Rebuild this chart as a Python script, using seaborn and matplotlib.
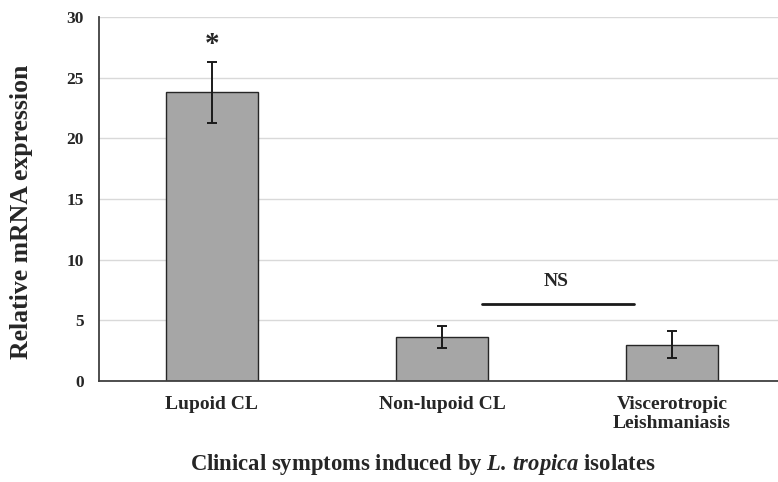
import matplotlib
matplotlib.use("Agg")
import matplotlib.pyplot as plt
import seaborn as sns
import pandas as pd

categories = ["Lupoid CL", "Non-lupoid CL", "Viscerotropic\nLeishmaniasis"]
values = [23.8, 3.65, 3.0]
errors = [2.5, 0.9, 1.1]
yticks = [0, 5, 10, 15, 20, 25, 30]

sns.set_theme(style="white")
plt.rcParams["font.family"] = ["Liberation Serif", "DejaVu Serif"]
plt.rcParams["font.weight"] = "bold"
plt.rcParams["mathtext.fontset"] = "custom"
plt.rcParams["mathtext.rm"] = "Liberation Serif:bold"
plt.rcParams["mathtext.bf"] = "Liberation Serif:bold"
plt.rcParams["mathtext.it"] = "Liberation Serif:italic:bold"
plt.rcParams["mathtext.bfit"] = "Liberation Serif:italic:bold"

df = pd.DataFrame({"cat": categories, "val": values})

fig = plt.figure(figsize=(7.78, 4.82), dpi=100)
ax = fig.add_axes([99 / 778, 1 - 381 / 482, 679 / 778, 364 / 482])

ax.set_axisbelow(True)
ax.yaxis.grid(True, color="#d9d9d9", lw=1.0)
sns.barplot(data=df, x="cat", y="val", color="#a6a6a6", width=0.4,
            edgecolor="#262626", linewidth=1.0, saturation=1, errorbar=None, ax=ax)
ax.errorbar(range(len(categories)), values, yerr=errors, fmt="none",
            ecolor="#1a1a1a", elinewidth=1.4, capsize=3.5, capthick=1.4)

ax.set_xlim(-0.491, 2.461)
ax.set_ylim(0, 30)
ax.set_yticks(yticks)
ax.set_yticklabels([str(t) for t in yticks], fontsize=12.5, fontweight="bold")
ax.tick_params(axis="y", length=0, pad=11)
ax.tick_params(axis="x", length=0, pad=11)
for lab in ax.get_xticklabels():
    lab.set_fontsize(14)
    lab.set_fontweight("bold")
    lab.set_linespacing(1.12)

for s in ["top", "right"]:
    ax.spines[s].set_visible(False)
for s in ["left", "bottom"]:
    ax.spines[s].set_color("#404040")
    ax.spines[s].set_linewidth(1.3)

ax.set_ylabel("Relative mRNA expression", fontsize=18.5, fontweight="bold")
ax.yaxis.set_label_coords(-0.097, 0.464)
ax.set_xlabel(r"Clinical symptoms induced by $\mathbfit{L.\,tropica}$ isolates",
              fontsize=16.3, fontweight="bold")
ax.xaxis.set_label_coords((423 - 99) / 679, -0.195)

ax.text(0, 27.7, "*", ha="center", va="center", fontsize=21, fontweight="bold")
ax.plot([1.174, 1.835], [6.37, 6.37], color="#1a1a1a", lw=2.0)
ax.text(1.496, 8.2, "NS", ha="center", va="center", fontsize=14, fontweight="bold")

fig.savefig("out.png", dpi=100)
